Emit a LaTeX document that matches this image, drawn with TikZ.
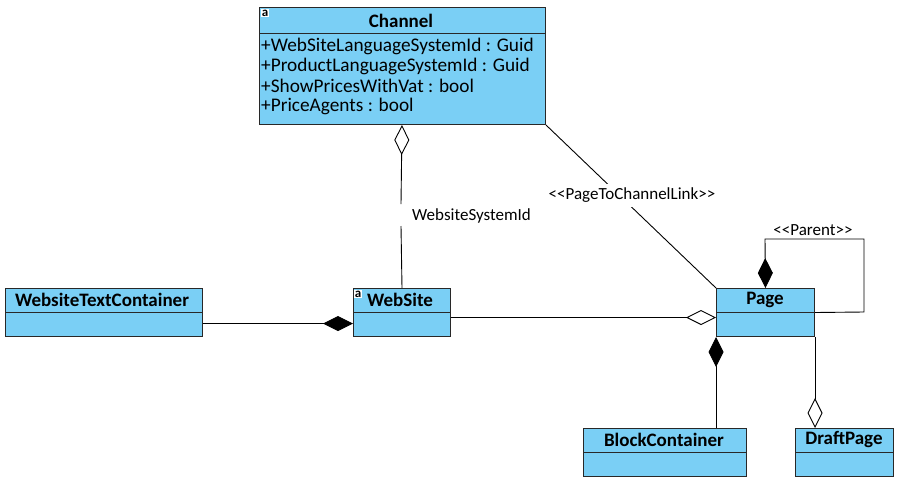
\documentclass[tikz,border=0pt]{standalone}
\usepackage{fontspec}
\setmainfont{Carlito}
\usetikzlibrary{arrows.meta}
\definecolor{boxfill}{RGB}{122,207,245}
\definecolor{boxline}{RGB}{40,40,40}
\begin{document}
\begin{tikzpicture}[x=1pt,y=-1pt,
  classbox/.style={draw=boxline, fill=boxfill, line width=1pt, inner sep=0pt, anchor=north west},
  divider/.style={draw=boxline, line width=1pt},
  ctitle/.style={font=\fontsize{19}{21}\selectfont\bfseries, inner sep=0pt},
  attr/.style={font=\fontsize{19.3}{20}\selectfont, inner sep=0pt, anchor=west},
  lbl/.style={font=\fontsize{17}{19}\selectfont, inner sep=0pt},
  abs/.style={font=\fontsize{13}{13}\selectfont\bfseries, fill=white, inner sep=0.5pt},
  conn/.style={draw=black, line width=0.9pt},
  comp/.style={conn, {Diamond[length=30pt,width=15pt]}-},
  aggr/.style={conn, {Diamond[open,fill=white,length=30pt,width=15pt]}-}
]
\useasboundingbox (0,0) rectangle (900,485);

% Channel
\node[classbox, minimum width=286pt, minimum height=117pt] (ch) at (259,7) {};
\draw[divider] (259,33) -- (545,33);
\node[ctitle] (cht) at (401,21) {Channel};
\node[abs] (cha) at (265,13) {a};
\node[attr] (a1) at (261,46) {+WebSiteLanguageSystemId : Guid};
\node[attr] (a2) at (261,66) {+ProductLanguageSystemId : Guid};
\node[attr] (a3) at (261,86) {+ShowPricesWithVat : bool};
\node[attr] (a4) at (261,106) {+PriceAgents : bool};

% WebsiteTextContainer
\node[classbox, minimum width=197pt, minimum height=48pt] (wtc) at (5,288) {};
\draw[divider] (5,312) -- (202,312);
\node[ctitle] (wtct) at (102,300) {WebsiteTextContainer};

% WebSite
\node[classbox, minimum width=97pt, minimum height=48pt] (ws) at (353,288) {};
\draw[divider] (353,312) -- (450,312);
\node[ctitle] (wst) at (400,300) {WebSite};
\node[abs] (wsa) at (358,294) {a};

% Page
\node[classbox, minimum width=98pt, minimum height=48pt] (page) at (716,288) {};
\draw[divider] (716,312) -- (814,312);
\node[ctitle] (paget) at (765,300) {Page};

% BlockContainer
\node[classbox, minimum width=163pt, minimum height=48pt] (bc) at (583,428) {};
\draw[divider] (583,452) -- (746,452);
\node[ctitle] (bct) at (664,440) {BlockContainer};

% DraftPage
\node[classbox, minimum width=98pt, minimum height=48pt] (dp) at (795,428) {};
\draw[divider] (795,452) -- (893,452);
\node[ctitle] (dpt) at (844,440) {DraftPage};

% WebsiteTextContainer -- WebSite (composition at WebSite)
\draw[comp] ([yshift=-11pt]ws.west) -- ([yshift=-11pt]wtc.east);

% Channel -- WebSite (aggregation at Channel)
\coordinate (g1) at (401,204);
\coordinate (g2) at (401,226);
\draw[aggr] (ws.north |- ch.south) -- (g1);
\draw[conn] (g2) -- (ws.north);
\node[lbl, anchor=west] (wsid) at (412,216) {WebsiteSystemId};

% Channel -- Page
\draw[conn] (ch.south east) -- (page.north west);
\node[lbl, fill=white, minimum height=23pt, inner xsep=1pt] (ptc) at (632,195) {<{}<PageToChannelLink>{}>};

% WebSite -- Page (aggregation at Page)
\draw[aggr] ([yshift=-5pt]page.west) -- ([yshift=-5pt]ws.east);

% Page self loop
\coordinate (lp1) at (765,239);
\coordinate (lp2) at (864,239);
\coordinate (lp3) at (864,312);
\draw[comp] (page.north) -- (lp1) -- (lp2) -- (lp3) -- (page.east);
\node[lbl] (par) at (813,230) {<{}<Parent>{}>};

% Page -- BlockContainer (composition at Page)
\draw[comp] (page.south west) -- (page.south west |- bc.north);

% Page -- DraftPage (aggregation at DraftPage)
\draw[aggr] (page.south east |- dp.north) -- (page.south east);
\end{tikzpicture}
\end{document}
